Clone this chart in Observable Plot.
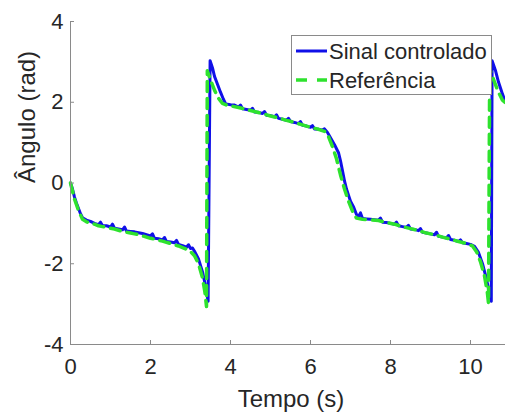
<!DOCTYPE html>
<html><head><meta charset="utf-8">
<script src="https://cdn.jsdelivr.net/npm/d3@7"></script>
<script src="https://cdn.jsdelivr.net/npm/@observablehq/plot@0.6"></script>
<style>
html,body{margin:0;padding:0;background:#fff;overflow:hidden;}
#wrap{position:relative;width:505px;height:412px;overflow:hidden;}
#legend{position:absolute;left:291px;top:35px;}
</style></head><body><div id="wrap"></div>
<script>
// Sinal controlado (blue, solid)
const sinalT = [0.00,0.05,0.10,0.15,0.20,0.25,0.30,0.40,0.50,0.60,0.70,0.75,0.80,0.90,1.00,1.05,1.10,1.20,1.30,1.35,1.40,1.50,1.60,1.70,1.80,1.90,2.00,2.05,2.10,2.20,2.30,2.35,2.40,2.50,2.60,2.65,2.70,2.80,2.90,2.95,3.00,3.05,3.10,3.20,3.30,3.37,3.42,3.44,
  3.49,3.55,3.60,3.67,3.75,3.82,3.88,4.00,4.10,4.20,4.25,4.30,4.40,4.50,4.55,4.60,4.70,4.80,4.85,4.90,5.00,5.10,5.15,5.20,5.30,5.40,5.45,5.50,5.60,5.70,5.75,5.80,5.90,6.00,6.05,6.10,6.20,6.30,6.35,6.42,6.50,6.60,6.70,6.75,6.80,6.85,6.90,6.95,7.00,7.08,7.15,7.20,7.25,7.30,7.40,7.50,7.60,7.70,7.75,7.80,7.90,8.00,8.10,8.15,8.20,8.30,8.40,8.45,8.50,8.60,8.70,8.75,8.80,8.90,9.00,9.10,9.15,9.20,9.30,9.40,9.45,9.50,9.60,9.70,9.75,9.80,9.90,10.00,10.10,10.20,10.30,10.38,10.46,10.52,
  10.54,10.62,10.70,10.80,10.88,11.00];
const sinalY = [0.00,-0.15,-0.35,-0.50,-0.63,-0.76,-0.86,-0.92,-0.95,-1.00,-1.03,-0.97,-1.06,-1.06,-1.09,-1.02,-1.12,-1.14,-1.16,-1.09,-1.19,-1.20,-1.21,-1.23,-1.25,-1.28,-1.31,-1.26,-1.37,-1.38,-1.41,-1.35,-1.45,-1.46,-1.48,-1.42,-1.52,-1.55,-1.59,-1.53,-1.62,-1.61,-1.69,-1.88,-2.20,-2.52,-2.82,-2.93,
  3.03,2.85,2.64,2.46,2.25,2.08,1.96,1.94,1.93,1.88,1.93,1.84,1.82,1.80,1.85,1.76,1.75,1.72,1.77,1.68,1.67,1.64,1.69,1.60,1.58,1.55,1.60,1.52,1.50,1.47,1.52,1.43,1.41,1.38,1.42,1.34,1.33,1.31,1.34,1.26,1.12,0.95,0.75,0.55,0.30,0.05,-0.15,-0.30,-0.45,-0.60,-0.78,-0.83,-0.74,-0.88,-0.89,-0.90,-0.91,-0.92,-0.87,-0.97,-0.98,-1.00,-1.02,-0.97,-1.06,-1.08,-1.10,-1.05,-1.14,-1.15,-1.18,-1.13,-1.22,-1.24,-1.26,-1.28,-1.22,-1.32,-1.34,-1.36,-1.30,-1.40,-1.42,-1.45,-1.41,-1.48,-1.50,-1.52,-1.57,-1.72,-2.00,-2.30,-2.66,-2.93,
  3.03,2.80,2.50,2.20,2.00,1.95];

// Referência (green, dashed)
const refT = [0.00,0.10,0.20,0.30,0.40,0.50,0.60,0.70,0.80,0.90,1.00,1.10,1.20,1.30,1.40,1.50,1.60,1.70,1.80,1.90,2.00,2.10,2.20,2.30,2.40,2.50,2.60,2.70,2.80,2.90,3.00,3.10,3.20,3.30,3.36,3.40,
  3.42,3.50,3.60,3.70,3.80,3.90,4.00,4.20,4.40,4.60,4.80,5.00,5.20,5.40,5.60,5.80,6.00,6.20,6.35,6.45,6.55,6.65,6.75,6.85,6.95,7.05,7.15,7.30,7.50,7.70,7.90,8.10,8.30,8.50,8.70,8.90,9.10,9.30,9.50,9.70,9.90,10.05,10.15,10.25,10.35,10.42,10.45,
  10.48,10.60,10.70,10.80,10.90,11.00];
const refY = [0.00,-0.40,-0.68,-0.90,-0.96,-1.00,-1.02,-1.06,-1.08,-1.10,-1.12,-1.14,-1.17,-1.20,-1.22,-1.24,-1.26,-1.28,-1.31,-1.34,-1.37,-1.39,-1.42,-1.44,-1.47,-1.50,-1.53,-1.56,-1.60,-1.64,-1.70,-1.80,-2.00,-2.35,-2.70,-3.06,
  2.78,2.55,2.30,2.10,1.97,1.93,1.91,1.87,1.82,1.77,1.72,1.66,1.61,1.55,1.50,1.44,1.38,1.33,1.28,1.15,0.90,0.60,0.20,-0.15,-0.45,-0.70,-0.87,-0.90,-0.91,-0.93,-0.98,-1.02,-1.08,-1.13,-1.18,-1.24,-1.28,-1.34,-1.39,-1.45,-1.50,-1.56,-1.70,-1.95,-2.30,-2.70,-2.98,
  2.82,2.50,2.25,2.05,1.97,1.93];

const xTicks = [0, 2, 4, 6, 8, 10];
const xTickLabels = ["0", "2", "4", "6", "8", "10"];
const yTicks = [-4, -2, 0, 2, 4];
const yTickLabels = ["-4", "-2", "0", "2", "4"];
const seriesNames = ["Sinal controlado", "Referência"];
const xLabel = "Tempo (s)";
const yLabel = "Ângulo (rad)";

const sinal = sinalT.map((t, i) => ({t, v: sinalY[i]}));
const ref = refT.map((t, i) => ({t, v: refY[i]}));

const font = "'Liberation Sans', Arial, Helvetica, sans-serif";
const axisGray = "#8a8a8a";
const textColor = "#262626";
const blue = "#1010e8";
const green = "#2ee22e";

const plot = Plot.plot({
  width: 505, height: 412,
  marginLeft: 70, marginRight: 0, marginTop: 21, marginBottom: 68,
  style: {fontFamily: font, background: "white"},
  x: {domain: [0, 11], range: [70, 510]},
  y: {domain: [-4, 4]},
  marks: [
    Plot.lineY(sinal, {x: "t", y: "v", stroke: blue, strokeWidth: 3}),
    Plot.lineY(ref, {x: "t", y: "v", stroke: green, strokeWidth: 3.5, strokeDasharray: "10,7"}),
    Plot.ruleY([-4], {stroke: axisGray}),
    Plot.ruleX([0], {stroke: axisGray}),
    Plot.axisX({ticks: xTicks, tickSize: 0, tickPadding: 14, fontSize: 22, fill: textColor,
      tickFormat: d => xTickLabels[xTicks.indexOf(d)], label: null}),
    Plot.axisX({ticks: xTicks, tickSize: -4, stroke: axisGray, tickFormat: () => "", label: null}),
    Plot.axisY({ticks: yTicks, tickSize: 0, tickPadding: 7, fontSize: 22, fill: textColor,
      tickFormat: d => yTickLabels[yTicks.indexOf(d)], label: null}),
    Plot.axisY({ticks: yTicks, tickSize: -4, stroke: axisGray, tickFormat: () => "", label: null}),
    Plot.text([xLabel], {text: d => d, frameAnchor: "bottom", dy: 62, dx: 3, lineAnchor: "bottom", fontSize: 24, fill: textColor}),
    Plot.text([yLabel], {text: d => d, frameAnchor: "left", dx: -36, rotate: -90, lineAnchor: "bottom", fontSize: 24, fill: textColor})
  ]
});
const wrap = document.getElementById("wrap");
wrap.appendChild(plot);

// Legend overlay
const leg = d3.select(wrap).append("svg").attr("id", "legend")
  .attr("width", 202).attr("height", 61).style("font-family", font);
leg.append("rect").attr("x", 0.5).attr("y", 0.5).attr("width", 200).attr("height", 59)
  .attr("fill", "white").attr("stroke", axisGray);
const legColors = [blue, green];
const legDash = [null, "11,10"];
const legWidths = [3, 3.5];
seriesNames.forEach((name, i) => {
  const y = 16 + i * 29;
  leg.append("line").attr("x1", 5).attr("x2", 36).attr("y1", y).attr("y2", y)
    .attr("stroke", legColors[i]).attr("stroke-width", legWidths[i])
    .attr("stroke-dasharray", legDash[i]);
  leg.append("text").attr("x", 38).attr("y", y).attr("dy", "0.35em")
    .attr("font-size", 22).attr("fill", textColor).text(name);
});
</script></body></html>
